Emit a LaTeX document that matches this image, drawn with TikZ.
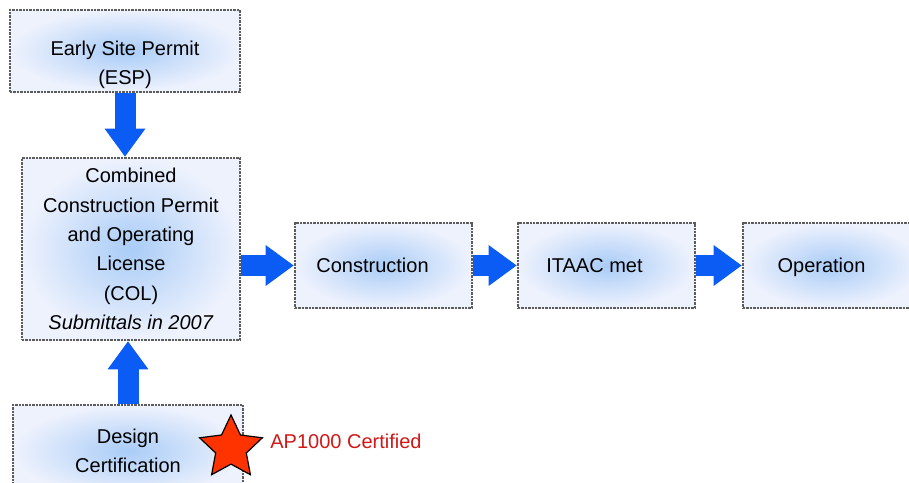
\documentclass[tikz,border=0pt]{standalone}
\usepackage{fontspec}
\setmainfont{Liberation Sans}
\usetikzlibrary{arrows.meta,shapes.geometric}
\definecolor{boxin}{HTML}{A9CCF7}
\definecolor{boxout}{HTML}{EEF2FD}
\definecolor{boxline}{HTML}{5C5C5C}
\definecolor{flowblue}{HTML}{0A5CF5}
\definecolor{starred}{HTML}{FF3300}
\definecolor{certred}{HTML}{D01818}

\tikzset{
  stage/.style={rectangle, draw=boxline, line width=1.4pt, dash pattern=on 1.2pt off 0.5pt,
    shading=radial, inner color=boxin, outer color=boxout, align=center,
    font=\fontsize{10}{14.7}\selectfont, inner sep=0pt},
  onerow/.style={stage, minimum width=88.5pt, minimum height=42.5pt, text height=9.4pt, text depth=2.2pt},
  flow/.style={draw=flowblue, line width=10.5pt,
    -{Triangle[width=20.5pt,length=14pt,line width=0pt]}}
}

\begin{document}
\begin{tikzpicture}[x=0.5pt, y=-0.5pt]
    \useasboundingbox (0,0) rectangle (909,482);
    \clip (0,0) rectangle (909,482);

    % Draw the licensing steps
    \node[stage, minimum width=115pt, minimum height=41pt] (esp) at (125,51) {\rule{0pt}{21pt}Early Site Permit\\(ESP)};
    \node[stage, minimum width=109pt, minimum height=91pt] (col) at (131,249)
        {Combined\\Construction Permit\\and Operating\\License\\(COL)\\\textit{Submittals in 2007}};
    \node[onerow] (cons) at (383.5,265.5) {Construction\kern11pt};
    \node[onerow] (itaac) at (606.5,265.5) {ITAAC met\kern12pt};
    \node[onerow] (op) at (831.5,265.5) {Operation\kern10pt};
    \node[stage, minimum width=115pt, minimum height=46pt] (dc) at (128,451) {Design\\Certification};

    % Draw the block arrows
    \draw[flow] (esp.south) -- (esp.south |- col.north);
    \draw[flow] (dc.north) -- (dc.north |- col.south);
    \draw[flow] (col.east |- cons.west) -- (cons.west);
    \draw[flow] (cons) -- (itaac);
    \draw[flow] (itaac) -- (op);

    % Add the certification mark
    \node[star, star points=5, star point ratio=2.05, minimum size=33pt, inner sep=0pt,
        fill=starred, draw=black, line width=0.6pt] (seal) at (231,448) {};
    \node[anchor=west, text=certred, font=\fontsize{10}{12}\selectfont, inner sep=0pt] (cert) at (270,441) {AP1000 Certified};
\end{tikzpicture}
\end{document}
